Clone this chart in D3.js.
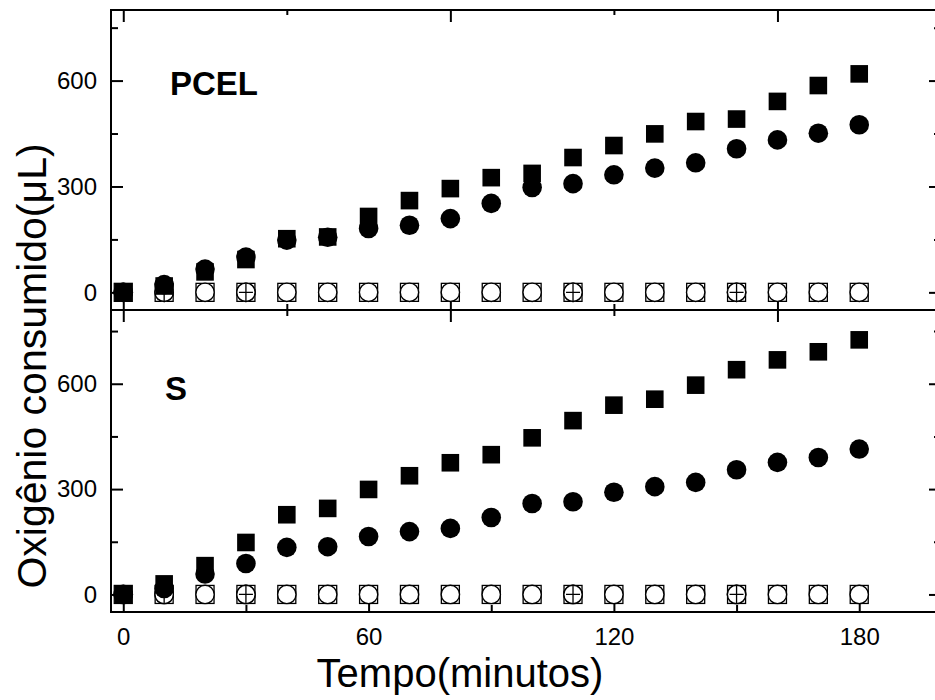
<!DOCTYPE html>
<html>
<head>
<meta charset="utf-8">
<script src="https://cdn.jsdelivr.net/npm/d3@7"></script>
<style>
  body { margin: 0; background: #fff; }
  svg { display: block; font-family: Arial, "Liberation Sans", sans-serif; }
</style>
</head>
<body>
<svg id="chart"></svg>
<script>
// time points (minutes)
const minutes = [0, 10, 20, 30, 40, 50, 60, 70, 80, 90, 100, 110, 120, 130, 140, 150, 160, 170, 180];

// PCEL panel
const pcelSquare = [0, 18, 58, 93, 152, 157, 215, 260, 294, 325, 337, 382, 416, 449, 484, 491, 541, 586, 619];
const pcelCircle = [0, 22, 66, 100, 148, 156, 181, 190, 209, 252, 297, 308, 333, 352, 367, 407, 432, 451, 475];

// S panel
const sSquare = [0, 30, 82, 148, 227, 245, 299, 338, 375, 398, 446, 495, 539, 556, 596, 640, 668, 691, 725];
const sCircle = [0, 17, 58, 88, 134, 136, 165, 179, 188, 219, 259, 264, 291, 307, 319, 355, 376, 390, 414];

// controls (open symbols), same in both panels
const controlSquare = [0, 0, 0, 0, 0, 0, 0, 0, 0, 0, 0, 0, 0, 0, 0, 0, 0, 0, 0];
const controlCircle = [0, 0, 0, 0, 0, 0, 0, 0, 0, 0, 0, 0, 0, 0, 0, 0, 0, 0, 0];
const crossMinutes = [10, 30, 110, 150];
const crossValues = [0, 0, 0, 0];

// ticks
const yMajor = [0, 300, 600];
const yMinor = [150, 450, 750];
const xMajorTop = [0, 80, 160];
const xMinorTop = [40, 120, 200];
const xMajor = [0, 60, 120, 180];
const xMinor = [30, 90, 150];

const width = 935, height = 700;
const left = 111, right = 941;

const svg = d3.select("#chart")
    .attr("width", width)
    .attr("height", height);

const x = d3.scaleLinear().domain([-3, 200]).range([left, right]);

const panels = [
    { name: "PCEL", top: 10, bottom: 310, domain: [-50, 800], squares: pcelSquare, circles: pcelCircle, labelX: 170, labelY: 95 },
    { name: "S", top: 310, bottom: 612, domain: [-50, 810], squares: sSquare, circles: sCircle, labelX: 165, labelY: 400 }
];

function styleAxis(g) {
    g.select(".domain").remove();
    g.selectAll(".tick line").attr("stroke", "#000").attr("stroke-width", 2);
    g.selectAll(".tick text").attr("fill", "#000").attr("font-size", 24);
}

panels.forEach((p, pi) => {
    const y = d3.scaleLinear().domain(p.domain).range([p.bottom, p.top]);
    const g = svg.append("g");

    // left axis
    g.append("g")
        .attr("transform", "translate(" + left + ",0)")
        .call(d3.axisLeft(y).tickValues(yMajor).tickSize(-12).tickPadding(14).tickFormat(d3.format("d")))
        .call(styleAxis);
    g.append("g")
        .attr("transform", "translate(" + left + ",0)")
        .call(d3.axisLeft(y).tickValues(yMinor).tickSize(-7).tickFormat(""))
        .call(styleAxis);

    // right axis
    g.append("g")
        .attr("transform", "translate(" + right + ",0)")
        .call(d3.axisRight(y).tickValues(yMajor).tickSize(-12).tickFormat(""))
        .call(styleAxis);
    g.append("g")
        .attr("transform", "translate(" + right + ",0)")
        .call(d3.axisRight(y).tickValues(yMinor).tickSize(-7).tickFormat(""))
        .call(styleAxis);

    if (pi === 0) {
        // top edge, inward ticks
        g.append("g")
            .attr("transform", "translate(0," + p.top + ")")
            .call(d3.axisBottom(x).tickValues(xMajorTop).tickSize(12).tickFormat(""))
            .call(styleAxis);
        g.append("g")
            .attr("transform", "translate(0," + p.top + ")")
            .call(d3.axisBottom(x).tickValues(xMinorTop).tickSize(5).tickFormat(""))
            .call(styleAxis);
        // bottom edge, in & out ticks
        g.append("g")
            .attr("transform", "translate(0," + (p.bottom - 12) + ")")
            .call(d3.axisBottom(x).tickValues(xMajorTop).tickSize(24).tickFormat(""))
            .call(styleAxis);
        g.append("g")
            .attr("transform", "translate(0," + (p.bottom - 6) + ")")
            .call(d3.axisBottom(x).tickValues(xMinorTop).tickSize(12).tickFormat(""))
            .call(styleAxis);
    } else {
        g.append("g")
            .attr("transform", "translate(0," + p.bottom + ")")
            .call(d3.axisBottom(x).tickValues(xMajor).tickSize(-12).tickPadding(16).tickFormat(d3.format("d")))
            .call(styleAxis);
        g.append("g")
            .attr("transform", "translate(0," + p.bottom + ")")
            .call(d3.axisBottom(x).tickValues(xMinor).tickSize(-7).tickFormat(""))
            .call(styleAxis);
    }

    // frame
    g.append("rect")
        .attr("x", left)
        .attr("y", p.top)
        .attr("width", right - left)
        .attr("height", p.bottom - p.top)
        .attr("fill", "none")
        .attr("stroke", "#000")
        .attr("stroke-width", 2);

    // open squares (control)
    g.selectAll(".osq")
        .data(minutes.map((m, i) => [m, controlSquare[i]]))
        .enter().append("rect")
        .attr("class", "osq")
        .attr("x", d => x(d[0]) - 9)
        .attr("y", d => y(d[1]) - 9)
        .attr("width", 18)
        .attr("height", 18)
        .attr("fill", "#fff")
        .attr("stroke", "#000")
        .attr("stroke-width", 1.3);

    // open circles (control)
    g.selectAll(".oci")
        .data(minutes.map((m, i) => [m, controlCircle[i]]))
        .enter().append("circle")
        .attr("class", "oci")
        .attr("cx", d => x(d[0]))
        .attr("cy", d => y(d[1]))
        .attr("r", 9.2)
        .attr("fill", "#fff")
        .attr("stroke", "#000")
        .attr("stroke-width", 1.4);

    // crossed circles
    const cross = g.selectAll(".cross")
        .data(crossMinutes.map((m, i) => [m, crossValues[i]]))
        .enter().append("g")
        .attr("class", "cross")
        .attr("transform", d => "translate(" + x(d[0]) + "," + y(d[1]) + ")");
    cross.append("circle")
        .attr("r", 9.2)
        .attr("fill", "#fff")
        .attr("stroke", "#000")
        .attr("stroke-width", 1.4);
    cross.append("path")
        .attr("d", "M-7,0H7M0,-9V9")
        .attr("stroke", "#000")
        .attr("stroke-width", 1.3);

    // filled circles
    g.selectAll(".fci")
        .data(minutes.map((m, i) => [m, p.circles[i]]))
        .enter().append("circle")
        .attr("class", "fci")
        .attr("cx", d => x(d[0]))
        .attr("cy", d => y(d[1]))
        .attr("r", 9.8)
        .attr("fill", "#000");

    // filled squares
    g.selectAll(".fsq")
        .data(minutes.map((m, i) => [m, p.squares[i]]))
        .enter().append("rect")
        .attr("class", "fsq")
        .attr("x", d => x(d[0]) - 8.8)
        .attr("y", d => y(d[1]) - 8.8)
        .attr("width", 17.6)
        .attr("height", 17.6)
        .attr("fill", "#000");

    // panel label
    g.append("text")
        .attr("x", p.labelX)
        .attr("y", p.labelY)
        .attr("font-size", 33)
        .attr("font-weight", "bold")
        .text(p.name);
});

// axis titles
svg.append("text")
    .attr("x", 460)
    .attr("y", 687)
    .attr("text-anchor", "middle")
    .attr("font-size", 40)
    .text("Tempo(minutos)");

svg.append("text")
    .attr("transform", "translate(46,366) rotate(-90)")
    .attr("text-anchor", "middle")
    .attr("font-size", 41)
    .text("Oxigênio consumido(μL)");
</script>
</body>
</html>
